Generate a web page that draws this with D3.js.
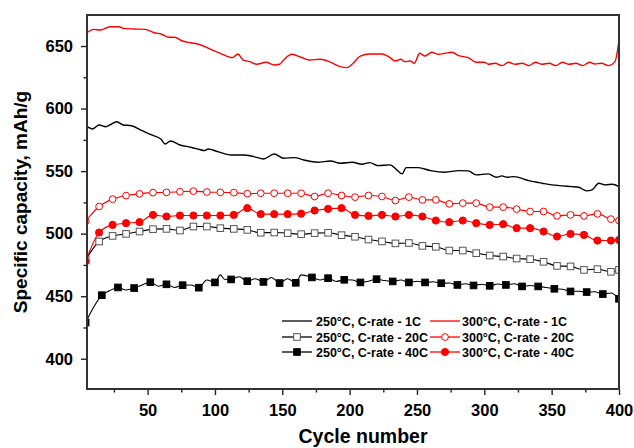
<!DOCTYPE html>
<html>
<head>
<meta charset="utf-8">
<script src="https://cdn.jsdelivr.net/npm/d3@7"></script>
<style>
  body { margin: 0; background: #fff; }
  svg text { font-family: "Liberation Sans", Arial, sans-serif; font-weight: bold; fill: #000; }
</style>
</head>
<body>
<div id="chart"></div>
<script>
// 250°C, C-rate - 1C (black line)
var k1Cycles = [5,9,14,19,22,27,32,38,46,53,60,63,67,74,82,88,92,95,102,112,121,129,136,144,151,159,166,176,186,193,202,209,215,221,230,235,239,242,251,260,271,281,288,294,303,309,313,317,322,333,343,350,358,365,370,376,380,385,390,395,400];
var k1Values = [585.5,583.7,586.9,585.5,586.9,589.5,586.9,586.3,582.3,578.9,575.5,571.7,574.1,570.9,569.1,567.5,566.4,567.7,565.6,562.9,562.9,561.6,559.7,563.7,560.3,560.8,558.9,557.1,558.1,556.3,557.1,555.5,556.8,554.4,555,551,547.8,552.8,552.8,550.4,549.1,550.4,550.2,547,547.8,545.1,546.2,545.1,545.6,542.4,540.3,539,538.2,537.6,537.1,534.2,535,540.3,539,539.5,537.6];

// 300°C, C-rate - 1C (red line)
var r1Cycles = [5,10,15,22,29,32,40,48,55,60,66,70,76,82,88,97,104,113,117,121,126,131,138,144,148,151,157,164,170,178,186,193,198,202,208,215,224,229,234,238,241,245,248,252,256,261,266,271,276,281,288,294,300,303,308,313,318,323,328,333,338,343,348,353,358,363,368,373,378,382,387,392,397,400];
var r1Values = [660.6,663.3,662.8,665.4,665.4,664.1,663.6,663.3,660.6,659.6,657,657,654,652.6,651.4,647.4,644.2,640.7,643.6,638.8,637.5,635.4,637,634.8,635.4,638.8,643.4,641,638.8,639.4,637,633.5,632.7,635.6,642,643.6,643.6,641.5,638,639.4,637.5,638,636.2,644.2,642,645,643.4,644.2,645,642.3,640.7,637,637,635.4,636.2,634.3,637,635.4,636.2,634.3,637,635.4,636.2,634.3,637,635.4,636.2,634.3,637,635.6,636.2,634.3,637.5,654.8];

// 20C series share their cycle points
var c20Cycles = [4,14,24,34,44,54,64,74,84,94,104,114,124,134,144,154,164,174,184,194,204,214,224,234,244,254,264,274,284,294,304,314,324,334,344,354,364,374,384,394,400];
var k20Values = [479,493.7,498.2,499.8,501.7,503.6,503.8,502.5,505.7,505.7,504.4,503.8,503,500.7,500.9,500.4,499.6,500.4,500.7,498.8,497.5,495.3,493.8,492.2,492.5,490.2,489.5,486.5,486.5,484.4,482.5,481.7,480.1,479.6,477.5,474.2,473.8,471,471.6,469.5,471];
var r20Values = [510,521.7,527.6,530.4,531.8,532.8,533,533.5,534,533.3,533,532.8,532,532.3,532.3,532.3,532.3,529.7,532.3,530.5,529.2,530.5,529.7,526.5,529.2,527,527,523.8,524.4,524.4,521.2,521.2,519.6,517.7,517.7,514.2,515,514.2,515.8,511.6,510.5];

// 300°C, C-rate - 40C (red filled circles)
var r40Cycles = [4,14,24,34,44,54,64,74,84,94,104,114,124,134,144,154,164,174,184,194,204,214,224,234,244,254,264,274,284,294,304,314,324,334,344,354,364,374,384,394,400];
var r40Values = [478,500.9,507,508.4,509.2,515,513.7,514.5,514.5,514.5,514.5,515,520.4,515.6,515.6,515.6,516,518.5,519.8,520.4,515,514.2,515,513.7,515,513.7,510.5,509.2,510.5,508.4,507,507.6,504.4,504.4,501.7,497.7,499.8,499,494.5,494.5,495];

// 250°C, C-rate - 40C (black filled squares, every 12 cycles) with points between them
var k40Cycles = [4,10,16,22,28,34,40,46,52,58,64,70,76,82,88,94,100,104,107,112,118,124,130,136,142,148,154,160,164,172,178,184,190,196,202,208,214,220,226,232,238,244,250,256,262,268,274,280,286,292,298,304,310,316,322,328,334,340,346,352,358,364,370,376,382,388,394,400];
var k40Values = [429,441.3,450.8,454.5,457,455,456.5,459,461.2,458,459.5,457,458.8,459,456.8,463,461,467,463.6,463.4,465.5,462,464,461.4,465,460.5,464,460.7,467,465,463,464.4,461.8,463.1,463,461,462,463.6,462.5,461.8,463,461,462,461,461.5,460.4,460.5,459,460,458.6,459.5,458.3,459.8,459,460,457.8,458.5,457.8,457,455.9,455.5,453.8,454,453.3,453.5,451.7,452.5,447.9];
var k40Markers = [4,16,28,40,52,64,76,88,100,112,124,136,148,160,172,184,196,208,220,232,244,256,268,280,292,304,316,328,340,352,364,376,388,400];

var xTicks = [50,100,150,200,250,300,350,400];
var xMinor = [25,75,125,175,225,275,325,375];
var yTicks = [400,450,500,550,600,650];
var yMinor = [425,475,525,575,625];

var legendLabels = ["250°C, C-rate - 1C", "250°C, C-rate - 20C", "250°C, C-rate - 40C",
                    "300°C, C-rate - 1C", "300°C, C-rate - 20C", "300°C, C-rate - 40C"];

function zip(cs, vs) { return cs.map(function (c, i) { return { c: c, v: vs[i] }; }); }

var series = [
  { name: legendLabels[0], color: "#000", data: zip(k1Cycles, k1Values), marker: null, lw: 1.4 },
  { name: legendLabels[1], color: "#000", data: zip(c20Cycles, k20Values), marker: "openSquare", lw: 1.1 },
  { name: legendLabels[2], color: "#000", data: zip(k40Cycles, k40Values), marker: "square", lw: 1.1,
    markAt: k40Markers },
  { name: legendLabels[3], color: "#ff0000", data: zip(r1Cycles, r1Values), marker: null, lw: 1.4 },
  { name: legendLabels[4], color: "#ff0000", data: zip(c20Cycles, r20Values), marker: "openCircle", lw: 1.1 },
  { name: legendLabels[5], color: "#ff0000", data: zip(r40Cycles, r40Values), marker: "circle", lw: 1.1 }
];

const width = 634;
const height = 448;
const m = { left: 87, right: 15, top: 15, bottom: 59 };
const iw = width - m.left - m.right;
const ih = height - m.top - m.bottom;

var svg = d3.select("#chart").append("svg")
  .attr("width", width)
  .attr("height", height);

var x = d3.scaleLinear().domain([5, 400]).range([m.left, m.left + iw]);
var y = d3.scaleLinear().domain([375.8, 674.8]).range([m.top + ih, m.top]);

svg.append("clipPath").attr("id", "plot")
  .append("rect")
  .attr("x", m.left).attr("y", m.top)
  .attr("width", iw).attr("height", ih);

// draws one marker of the given kind centred at (0,0) inside g
function drawMarker(g, kind, color) {
  if (kind === "openSquare" || kind === "square") {
    g.append("rect")
      .attr("x", -3.3).attr("y", -3.3)
      .attr("width", 6.6).attr("height", 6.6)
      .attr("fill", kind === "square" ? "#000" : "#fff")
      .attr("stroke", kind === "square" ? "#000" : "#555")
      .attr("stroke-width", 1);
  } else if (kind === "openCircle" || kind === "circle") {
    g.append("circle")
      .attr("r", kind === "circle" ? 3.6 : 3.4)
      .attr("fill", kind === "circle" ? color : "#fff")
      .attr("stroke", color)
      .attr("stroke-width", 1);
  }
}

var line = d3.line()
  .x(d => x(d.c))
  .y(d => y(d.v))
  .curve(d3.curveMonotoneX);

var plot = svg.append("g").attr("clip-path", "url(#plot)");

series.forEach(function (s) {
  plot.append("path")
    .datum(s.data)
    .attr("d", line)
    .attr("fill", "none")
    .attr("stroke", s.color)
    .attr("stroke-width", s.lw)
    .attr("stroke-linejoin", "round");

  if (s.marker) {
    var pts = s.markAt ? s.data.filter(d => s.markAt.indexOf(d.c) >= 0) : s.data;
    pts.forEach(function (d) {
      var g = plot.append("g").attr("transform", "translate(" + x(d.c) + "," + y(d.v) + ")");
      drawMarker(g, s.marker, s.color);
    });
  }
});

// axes: outward ticks, majors labelled
var xAxis = svg.append("g").attr("transform", "translate(0," + (m.top + ih) + ")");
xAxis.call(d3.axisBottom(x).tickValues(xTicks).tickSize(6).tickPadding(9));
xAxis.append("g").call(d3.axisBottom(x).tickValues(xMinor).tickSize(3.5).tickFormat(""));

var yAxis = svg.append("g").attr("transform", "translate(" + m.left + ",0)");
yAxis.call(d3.axisLeft(y).tickValues(yTicks).tickSize(6).tickPadding(8));
yAxis.append("g").call(d3.axisLeft(y).tickValues(yMinor).tickSize(3.5).tickFormat(""));

svg.selectAll(".domain").remove();
svg.selectAll(".tick line").attr("stroke", "#222").attr("stroke-width", 1.4);
svg.selectAll(".tick text")
  .style("font-size", "16.5px")
  .style("font-family", "'Liberation Sans', Arial, sans-serif")
  .style("font-weight", "bold")
  .attr("fill", "#000");

// frame round the plot
svg.append("rect")
  .attr("x", m.left).attr("y", m.top)
  .attr("width", iw).attr("height", ih)
  .attr("fill", "none")
  .attr("stroke", "#333")
  .attr("stroke-width", 2);

svg.append("text")
  .attr("x", 363).attr("y", 443)
  .attr("text-anchor", "middle")
  .style("font-size", "19.5px")
  .text("Cycle number");

svg.append("text")
  .attr("transform", "translate(27,202) rotate(-90)")
  .attr("text-anchor", "middle")
  .style("font-size", "19px")
  .text("Specific capacity, mAh/g");

// legend, two columns of three
var legend = svg.append("g");
var colX = [282, 430];
var rowY = [321, 337, 352];

series.forEach(function (s, i) {
  var lx = colX[Math.floor(i / 3)];
  var ly = rowY[i % 3];
  var g = legend.append("g").attr("transform", "translate(" + lx + "," + ly + ")");
  g.append("line")
    .attr("x1", 0).attr("x2", 30)
    .attr("stroke", s.color)
    .attr("stroke-width", 1.3);
  if (s.marker) {
    var mg = g.append("g").attr("transform", "translate(15,0)");
    drawMarker(mg, s.marker, s.color);
  }
  g.append("text")
    .attr("x", lx === 282 ? 34 : 32)
    .attr("dy", "0.36em")
    .style("font-size", "12.5px")
    .text(s.name);
});
</script>
</body>
</html>
